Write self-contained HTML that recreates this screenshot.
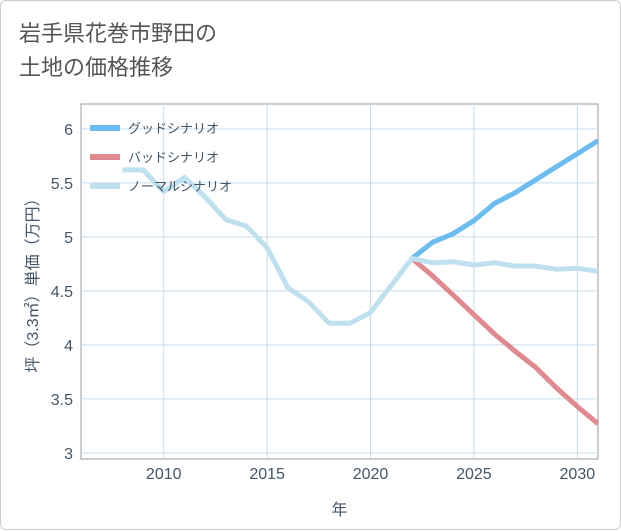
<!DOCTYPE html>
<html><head><meta charset="utf-8"><style>
body{margin:0;background:#fff;font-family:"Liberation Sans","Noto Sans CJK JP",sans-serif;}
#wrap{position:relative;width:619px;height:528px;border:1px solid #ccc;border-radius:6px;background:#fff;}
#title{position:absolute;left:18px;top:14px;font-size:22px;line-height:34px;color:#555;font-family:"Noto Sans CJK JP",sans-serif;}
svg{position:absolute;left:0;top:0;}
</style></head><body>
<div id="wrap">
<div id="title">岩手県花巻市野田の<br>土地の価格推移</div>
<svg id="chart" width="621" height="530"></svg>
</div>
<script>
const years=[2008,2009,2010,2011,2012,2013,2014,2015,2016,2017,2018,2019,2020,2021,2022,2023,2024,2025,2026,2027,2028,2029,2030,2031];
const normalVals=[5.62,5.62,5.42,5.55,5.37,5.16,5.10,4.90,4.53,4.40,4.20,4.20,4.30,4.55,4.80,4.76,4.77,4.74,4.76,4.73,4.73,4.70,4.71,4.68];
const futureYears=[2022,2023,2024,2025,2026,2027,2028,2029,2030,2031];
const goodVals=[4.80,4.95,5.03,5.15,5.31,5.41,5.53,5.65,5.77,5.89];
const badVals=[4.80,4.64,4.46,4.28,4.10,3.94,3.79,3.60,3.43,3.27];
const xTicks=[2010,2015,2020,2025,2030];
const yTicks=[3,3.5,4,4.5,5,5.5,6];
const legendLabels=["グッドシナリオ","バッドシナリオ","ノーマルシナリオ"];
const L=80,R=597,T=103,B=458,x0=2006,x1=2031,y0=2.944,y1=6.23;
const NS="http://www.w3.org/2000/svg",svg=document.getElementById('chart');
const X=v=>L+(v-x0)/(x1-x0)*(R-L), Y=v=>B-(v-y0)/(y1-y0)*(B-T);
function mk(t,a){const e=document.createElementNS(NS,t);for(const k in a)e.setAttribute(k,a[k]);svg.appendChild(e);return e;}
let fr=mk('rect',{x:L,y:T,width:R-L,height:B-T,fill:'none',stroke:'#999','stroke-width':1});


xTicks.forEach(t=>{
 let g=mk('line',{x1:X(t),x2:X(t),y1:T,y2:B,stroke:'#c5dcec'});
 
 
 let tx=mk('text',{x:X(t),y:B+20,'text-anchor':'middle','font-size':16,fill:'#456'});tx.textContent=t;
 
 
});
yTicks.forEach(t=>{
 let g=mk('line',{x1:L,x2:R,y1:Y(t),y2:Y(t),stroke:'#c5dcec'});
 
 
 let tx=mk('text',{x:L-8,y:Y(t)+6,'text-anchor':'end','font-size':16,fill:'#456'});tx.textContent=t;
 
 
});
let xt=mk('text',{x:(L+R)/2,y:514,'text-anchor':'middle','font-size':16,fill:'#456'});xt.textContent='年';


let yt=mk('text',{x:0,y:0,'text-anchor':'middle','font-size':16,fill:'#456',transform:`translate(37,${(T+B)/2}) rotate(-90)`});yt.textContent='坪（3.3㎡）単価（万円）';


function line(xs,vs,col,name){
 let p=mk('polyline',{points:xs.map((x,i)=>X(x)+','+Y(vs[i])).join(' '),fill:'none',stroke:col,'stroke-width':5,'stroke-linejoin':'round'});
 
 
}
const cp=mk('clipPath',{id:'c'});const cr=document.createElementNS(NS,'rect');cr.setAttribute('x',L);cr.setAttribute('y',T);cr.setAttribute('width',R-L);cr.setAttribute('height',B-T);cp.appendChild(cr);
line(futureYears,goodVals,'#6bbcf0','good-scenario-line');
line(futureYears,badVals,'#e08a90','bad-scenario-line');
line(years,normalVals,'#bfe0ee','normal-scenario-line');
svg.querySelectorAll('polyline').forEach(p=>p.setAttribute('clip-path','url(#c)'));
const cols=['#6bbcf0','#e08a90','#bfe0ee'];
legendLabels.forEach((s,i)=>{
 const y=127+i*29;
 let r=mk('rect',{x:89,y:y-3,width:30,height:6,fill:cols[i]});
 
 
 let t=mk('text',{x:127,y:y+5,'font-size':13,fill:'#456'});t.textContent=s;
 
 
});
</script>
</body></html>
